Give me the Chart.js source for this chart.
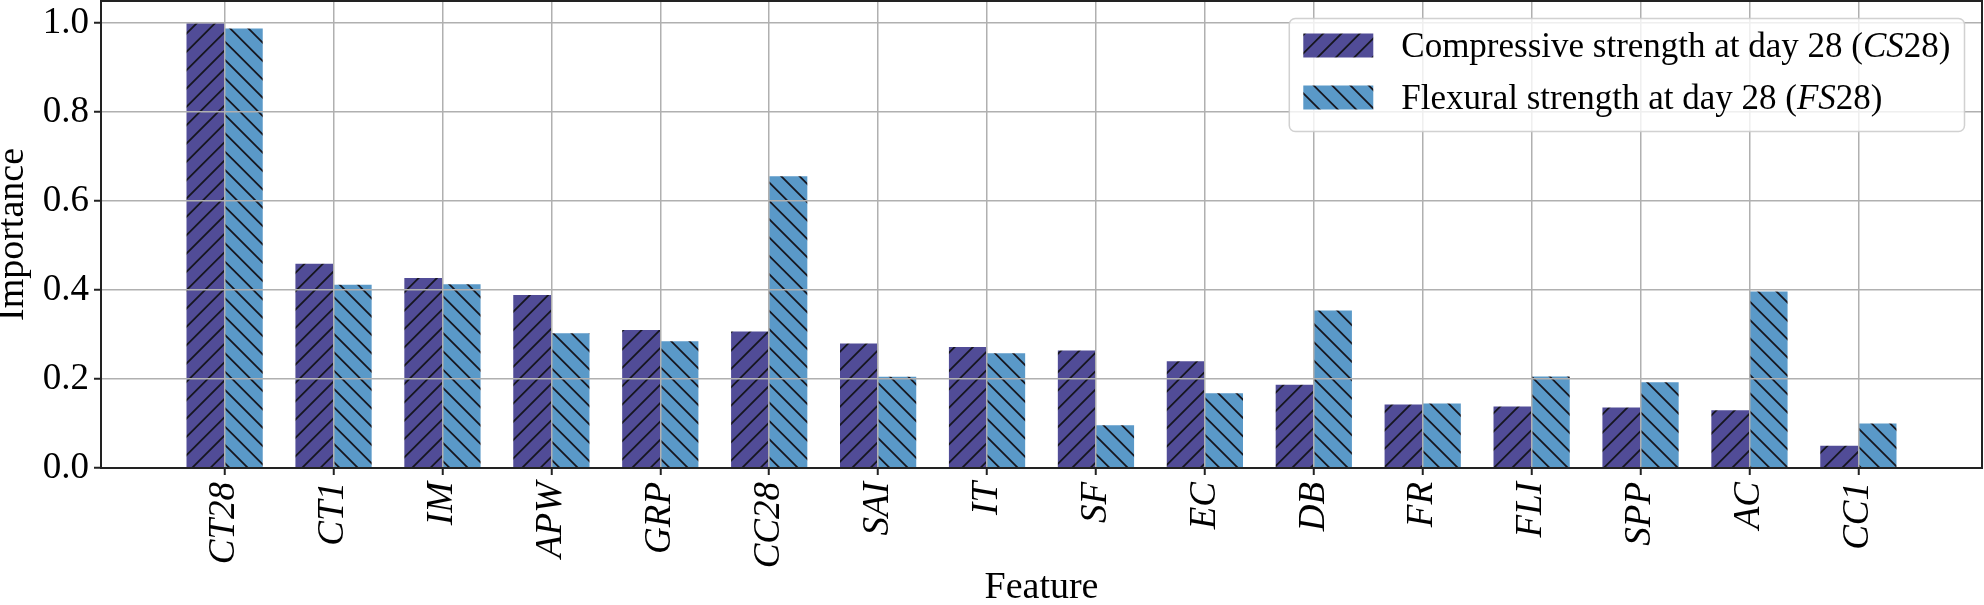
<!DOCTYPE html>
<html><head><meta charset="utf-8">
<script src="https://cdn.jsdelivr.net/npm/chart.js@4.4.1/dist/chart.umd.min.js"></script>
<style>html,body{margin:0;padding:0;background:#fff;overflow:hidden}canvas{display:block}</style>
</head><body>
<canvas id="c" width="1984" height="605"></canvas>
<script>
const features = ['CT28','CT1','IM','APW','GRP','CC28','SAI','IT','SF','EC','DB','FR','FLI','SPP','AC','CC1'];
const cs28 = [1.000,0.459,0.427,0.389,0.310,0.307,0.280,0.272,0.264,0.240,0.187,0.143,0.138,0.136,0.130,0.050];
const fs28 = [0.988,0.412,0.413,0.303,0.285,0.656,0.205,0.258,0.096,0.168,0.354,0.145,0.206,0.193,0.397,0.100];
const yTicks = [0.0,0.2,0.4,0.6,0.8,1.0];
const seriesNames = ['Compressive strength at day 28 (CS28)','Flexural strength at day 28 (FS28)'];
const seriesValues = [cs28, fs28];
const seriesColors = ['#514c97','#5a99c8'];
const hatchDirs = ['/','\\'];

const SERIF = '"Liberation Serif", "Times New Roman", serif';

function hatch(color, dir) {
  const s = 55, step = 55 / 3;
  const c = document.createElement('canvas'); c.width = c.height = s;
  const g = c.getContext('2d');
  g.fillStyle = color; g.fillRect(0, 0, s, s);
  g.strokeStyle = '#16161f'; g.lineWidth = 1.8;
  g.beginPath();
  for (let k = -4; k <= 7; k++) {
    const o = k * step;
    if (dir === '/') { g.moveTo(o + 5, -5); g.lineTo(o - s - 5, s + 5); }
    else { g.moveTo(o - 5, -5); g.lineTo(o + s + 5, s + 5); }
  }
  g.stroke();
  return g.createPattern(c, 'repeat');
}
const patterns = seriesColors.map((c, i) => hatch(c, hatchDirs[i]));

const framePlugin = {
  id: 'frame',
  afterDraw(chart) {
    const {ctx, chartArea: a} = chart;
    ctx.save();
    ctx.strokeStyle = '#222'; ctx.lineWidth = 2;
    ctx.strokeRect(a.left, a.top, a.right - a.left, a.bottom - a.top);
    ctx.restore();
  }
};

function segmentsOf(name) {
  const m = name.match(/^(.*\()([A-Z]+)(\d+\))$/);
  if (!m) return [[name, false]];
  return [[m[1], false], [m[2], true], [m[3], false]];
}

const legendPlugin = {
  id: 'boxLegend',
  afterDraw(chart) {
    const {ctx, chartArea: a} = chart;
    const fs = 35;
    const fontN = fs + 'px ' + SERIF, fontI = 'italic ' + fs + 'px ' + SERIF;
    ctx.save();
    const widths = seriesNames.map(n => segmentsOf(n).reduce((w, [t, it]) => {
      ctx.font = it ? fontI : fontN; return w + ctx.measureText(t).width; }, 0));
    const textW = Math.max(...widths);
    const pad = 0.4 * fs, hl = 2 * fs, htp = 0.8 * fs;
    const W = pad + hl + htp + textW + pad;
    const H = 113;
    const right = a.right - 0.5 * fs, top = a.top + 0.5 * fs;
    const left = right - W;
    ctx.beginPath();
    ctx.roundRect(left, top, W, H, 6);
    ctx.fillStyle = 'rgba(255,255,255,0.8)'; ctx.fill();
    ctx.strokeStyle = 'rgba(204,204,204,0.9)'; ctx.lineWidth = 1.5; ctx.stroke();
    seriesNames.forEach((n, r) => {
      const base = top + 38 + r * 52;
      ctx.fillStyle = patterns[r];
      ctx.fillRect(left + pad, base - 23, hl, 24);
      let x = left + pad + hl + htp;
      ctx.fillStyle = '#000'; ctx.textBaseline = 'alphabetic'; ctx.textAlign = 'left';
      segmentsOf(n).forEach(([t, it]) => {
        ctx.font = it ? fontI : fontN;
        ctx.fillText(t, x, base);
        x += ctx.measureText(t).width;
      });
    });
    ctx.restore();
  }
};

const gridOpts = {z: 1, color: '#b0b0b0', lineWidth: 1.5, tickLength: 7, tickColor: '#222', tickWidth: 2, offset: false};
const borderOpts = {z: 1, color: '#222', width: 2};

new Chart(document.getElementById('c'), {
  type: 'bar',
  data: {
    datasets: seriesNames.map((n, d) => ({
      label: n,
      data: features.map((f, i) => ({x: i, y: seriesValues[d][i]})),
      backgroundColor: patterns[d],
      borderWidth: 0,
      categoryPercentage: 0.7,
      barPercentage: 1.0
    }))
  },
  options: {
    responsive: false, animation: false, devicePixelRatio: 1,
    layout: {padding: {left: 0, right: 2, top: 1, bottom: 0}},
    plugins: {legend: {display: false}, tooltip: {enabled: false}},
    scales: {
      x: {
        type: 'linear', min: -1.135, max: 16.135, offset: false,
        afterBuildTicks: ax => { ax.ticks = features.map((_, i) => ({value: i})); },
        afterFit: ax => { ax.height = 137; ax.paddingLeft = 0; ax.paddingRight = 0; ax.paddingTop = 0; ax.paddingBottom = 0; },
        grid: gridOpts,
        border: borderOpts,
        ticks: {
          callback: v => features[v] ?? '',
          minRotation: 90, maxRotation: 90, autoSkip: false, padding: 7, color: '#000',
          font: {family: SERIF, style: 'italic', size: 37}
        },
        title: {display: true, text: 'Feature', color: '#000',
          font: {family: SERIF, size: 38, lineHeight: 1}, padding: {top: 0, bottom: -2}}
      },
      y: {
        min: 0, max: 1.05,
        afterBuildTicks: ax => { ax.ticks = yTicks.map(v => ({value: v})); },
        afterFit: ax => { ax.width = 101; ax.paddingTop = 0; ax.paddingBottom = 0; ax.paddingLeft = 0; ax.paddingRight = 0; },
        grid: gridOpts,
        border: borderOpts,
        ticks: {callback: v => Number(v).toFixed(1), padding: 5, color: '#000',
          font: {family: SERIF, size: 37}},
        title: {display: true, text: 'Importance', color: '#000',
          font: {family: SERIF, size: 38, lineHeight: 1}, padding: {top: -6, bottom: 0}}
      }
    }
  },
  plugins: [framePlugin, legendPlugin]
});
</script>
</body></html>
